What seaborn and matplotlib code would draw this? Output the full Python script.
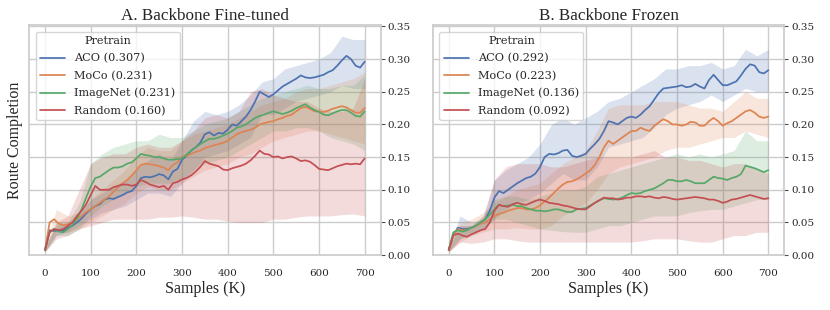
import numpy as np
import pandas as pd
import seaborn as sns
import matplotlib
matplotlib.use("Agg")
import matplotlib.pyplot as plt

# ---------------- data ----------------
X_MEAN = list(range(0, 701, 10))
X_BAND = list(range(0, 701, 25))
SERIES = ["ACO", "MoCo", "ImageNet", "Random"]
FINAL_A = ["0.307", "0.231", "0.231", "0.160"]
FINAL_B = ["0.292", "0.223", "0.136", "0.092"]
TITLES = ["A. Backbone Fine-tuned", "B. Backbone Frozen"]
XTICKS = [0, 100, 200, 300, 400, 500, 600, 700]
YTICKS = [0.00, 0.05, 0.10, 0.15, 0.20, 0.25, 0.30, 0.35]

# Panel A means
A_ACO = [0.008, 0.038, 0.037, 0.038, 0.037, 0.042, 0.045, 0.050, 0.056, 0.064,
         0.070, 0.075, 0.078, 0.085, 0.087, 0.086, 0.089, 0.092, 0.096, 0.098,
         0.106, 0.118, 0.120, 0.119, 0.121, 0.124, 0.122, 0.116, 0.128, 0.132,
         0.146, 0.152, 0.160, 0.165, 0.172, 0.185, 0.188, 0.183, 0.187, 0.186,
         0.192, 0.200, 0.198, 0.205, 0.212, 0.222, 0.235, 0.250, 0.246, 0.242,
         0.246, 0.252, 0.258, 0.262, 0.266, 0.270, 0.275, 0.272, 0.271, 0.272,
         0.274, 0.276, 0.280, 0.283, 0.290, 0.298, 0.305, 0.300, 0.290, 0.287,
         0.296]
A_MOCO = [0.008, 0.050, 0.055, 0.048, 0.046, 0.047, 0.050, 0.055, 0.060, 0.066,
          0.070, 0.075, 0.080, 0.085, 0.090, 0.097, 0.104, 0.110, 0.115, 0.122,
          0.130, 0.138, 0.140, 0.139, 0.138, 0.136, 0.134, 0.130, 0.138, 0.142,
          0.150, 0.152, 0.155, 0.158, 0.160, 0.164, 0.166, 0.168, 0.170, 0.172,
          0.175, 0.180, 0.185, 0.188, 0.190, 0.192, 0.195, 0.200, 0.202, 0.204,
          0.205, 0.208, 0.210, 0.213, 0.215, 0.220, 0.225, 0.227, 0.224, 0.220,
          0.220, 0.219, 0.221, 0.224, 0.226, 0.228, 0.226, 0.222, 0.218, 0.218,
          0.225]
A_IMNET = [0.008, 0.035, 0.040, 0.036, 0.035, 0.040, 0.046, 0.056, 0.070, 0.088,
           0.105, 0.118, 0.120, 0.125, 0.130, 0.134, 0.134, 0.136, 0.140, 0.142,
           0.148, 0.155, 0.153, 0.152, 0.150, 0.150, 0.148, 0.146, 0.146, 0.147,
           0.148, 0.154, 0.160, 0.165, 0.170, 0.174, 0.178, 0.178, 0.180, 0.183,
           0.186, 0.190, 0.195, 0.197, 0.200, 0.205, 0.210, 0.213, 0.215, 0.218,
           0.220, 0.218, 0.216, 0.218, 0.221, 0.225, 0.228, 0.231, 0.226, 0.222,
           0.219, 0.215, 0.214, 0.217, 0.220, 0.222, 0.222, 0.218, 0.213, 0.212,
           0.220]
A_RAND = [0.008, 0.035, 0.040, 0.038, 0.040, 0.045, 0.050, 0.060, 0.068, 0.078,
          0.092, 0.106, 0.100, 0.100, 0.100, 0.104, 0.106, 0.108, 0.108, 0.106,
          0.108, 0.115, 0.112, 0.108, 0.106, 0.104, 0.106, 0.100, 0.110, 0.112,
          0.116, 0.118, 0.122, 0.128, 0.135, 0.144, 0.140, 0.138, 0.136, 0.131,
          0.130, 0.133, 0.135, 0.137, 0.140, 0.145, 0.152, 0.160, 0.155, 0.154,
          0.150, 0.151, 0.148, 0.150, 0.151, 0.148, 0.144, 0.145, 0.143, 0.138,
          0.132, 0.131, 0.130, 0.133, 0.136, 0.138, 0.140, 0.139, 0.140, 0.139,
          0.148]

# Panel A bands (lower / upper)
A_ACO_LO = [0.005, 0.030, 0.035, 0.045, 0.055, 0.065, 0.070, 0.075, 0.085, 0.095,
            0.095, 0.090, 0.110, 0.130, 0.150, 0.155, 0.160, 0.170, 0.180, 0.215,
            0.215, 0.225, 0.235, 0.240, 0.245, 0.250, 0.260, 0.255, 0.255]
A_ACO_HI = [0.012, 0.045, 0.050, 0.065, 0.085, 0.095, 0.105, 0.115, 0.130, 0.145,
            0.155, 0.145, 0.175, 0.205, 0.220, 0.215, 0.220, 0.230, 0.245, 0.265,
            0.270, 0.285, 0.290, 0.295, 0.300, 0.310, 0.335, 0.330, 0.330]
A_MOCO_LO = [0.005, 0.035, 0.035, 0.040, 0.050, 0.060, 0.070, 0.080, 0.095, 0.105,
             0.100, 0.100, 0.110, 0.120, 0.130, 0.135, 0.140, 0.150, 0.155, 0.165,
             0.175, 0.180, 0.185, 0.190, 0.190, 0.185, 0.180, 0.175, 0.170]
A_MOCO_HI = [0.012, 0.070, 0.060, 0.065, 0.085, 0.100, 0.115, 0.130, 0.150, 0.165,
             0.160, 0.160, 0.175, 0.185, 0.190, 0.195, 0.200, 0.210, 0.220, 0.230,
             0.235, 0.240, 0.250, 0.255, 0.255, 0.260, 0.265, 0.270, 0.280]
A_IMNET_LO = [0.005, 0.030, 0.030, 0.040, 0.060, 0.075, 0.085, 0.095, 0.105, 0.110,
              0.110, 0.110, 0.115, 0.130, 0.140, 0.145, 0.150, 0.160, 0.170, 0.180,
              0.190, 0.190, 0.195, 0.195, 0.190, 0.180, 0.175, 0.170, 0.160]
A_IMNET_HI = [0.012, 0.050, 0.050, 0.080, 0.140, 0.155, 0.165, 0.170, 0.175, 0.175,
              0.185, 0.180, 0.180, 0.190, 0.200, 0.205, 0.210, 0.220, 0.230, 0.240,
              0.245, 0.250, 0.255, 0.260, 0.255, 0.255, 0.260, 0.260, 0.275]
A_RAND_LO = [0.005, 0.025, 0.030, 0.040, 0.045, 0.050, 0.055, 0.055, 0.055, 0.055,
             0.058, 0.058, 0.060, 0.058, 0.055, 0.055, 0.052, 0.050, 0.050, 0.050,
             0.055, 0.055, 0.058, 0.060, 0.060, 0.060, 0.062, 0.063, 0.060]
A_RAND_HI = [0.012, 0.050, 0.060, 0.100, 0.140, 0.150, 0.155, 0.155, 0.165, 0.170,
             0.165, 0.165, 0.175, 0.190, 0.210, 0.215, 0.210, 0.220, 0.250, 0.255,
             0.245, 0.240, 0.235, 0.235, 0.225, 0.220, 0.220, 0.225, 0.270]

# Panel B means
B_ACO = [0.008, 0.030, 0.042, 0.040, 0.040, 0.042, 0.045, 0.050, 0.055, 0.068,
         0.088, 0.098, 0.095, 0.100, 0.105, 0.110, 0.114, 0.118, 0.120, 0.125,
         0.135, 0.150, 0.155, 0.154, 0.156, 0.160, 0.161, 0.152, 0.150, 0.152,
         0.155, 0.163, 0.170, 0.178, 0.190, 0.205, 0.203, 0.200, 0.205, 0.210,
         0.212, 0.210, 0.215, 0.222, 0.228, 0.238, 0.248, 0.255, 0.256, 0.257,
         0.258, 0.260, 0.257, 0.258, 0.262, 0.258, 0.255, 0.268, 0.276, 0.268,
         0.260, 0.260, 0.263, 0.266, 0.275, 0.285, 0.292, 0.290, 0.280, 0.278,
         0.283]
B_MOCO = [0.008, 0.030, 0.040, 0.038, 0.038, 0.042, 0.045, 0.048, 0.050, 0.055,
          0.060, 0.063, 0.065, 0.068, 0.070, 0.072, 0.072, 0.070, 0.070, 0.072,
          0.076, 0.082, 0.088, 0.095, 0.102, 0.108, 0.112, 0.113, 0.116, 0.120,
          0.125, 0.130, 0.138, 0.150, 0.165, 0.175, 0.170, 0.175, 0.180, 0.185,
          0.190, 0.190, 0.195, 0.192, 0.190, 0.198, 0.203, 0.208, 0.205, 0.200,
          0.200, 0.198, 0.200, 0.204, 0.203, 0.198, 0.198, 0.205, 0.210, 0.205,
          0.198, 0.202, 0.205, 0.210, 0.215, 0.220, 0.222, 0.218, 0.212, 0.210,
          0.212]
B_IMNET = [0.008, 0.035, 0.038, 0.036, 0.038, 0.042, 0.045, 0.050, 0.055, 0.062,
           0.070, 0.077, 0.075, 0.076, 0.077, 0.075, 0.075, 0.072, 0.070, 0.068,
           0.068, 0.067, 0.068, 0.070, 0.070, 0.068, 0.066, 0.066, 0.070, 0.071,
           0.072, 0.076, 0.080, 0.084, 0.087, 0.086, 0.085, 0.086, 0.088, 0.092,
           0.095, 0.094, 0.095, 0.098, 0.100, 0.102, 0.106, 0.110, 0.115, 0.115,
           0.113, 0.113, 0.115, 0.113, 0.110, 0.110, 0.110, 0.115, 0.120, 0.118,
           0.117, 0.115, 0.118, 0.120, 0.124, 0.137, 0.135, 0.133, 0.130, 0.127,
           0.130]
B_RAND = [0.008, 0.030, 0.033, 0.030, 0.028, 0.032, 0.035, 0.038, 0.040, 0.050,
          0.068, 0.077, 0.075, 0.074, 0.078, 0.080, 0.078, 0.077, 0.080, 0.083,
          0.085, 0.083, 0.080, 0.079, 0.078, 0.076, 0.075, 0.073, 0.071, 0.070,
          0.070, 0.075, 0.080, 0.084, 0.088, 0.087, 0.087, 0.085, 0.086, 0.088,
          0.088, 0.090, 0.090, 0.089, 0.090, 0.088, 0.087, 0.089, 0.088, 0.086,
          0.085, 0.086, 0.087, 0.088, 0.089, 0.088, 0.087, 0.085, 0.085, 0.083,
          0.080, 0.082, 0.085, 0.086, 0.088, 0.090, 0.092, 0.090, 0.088, 0.086,
          0.087]

# Panel B bands
B_ACO_LO = [0.005, 0.025, 0.035, 0.040, 0.055, 0.070, 0.080, 0.085, 0.095, 0.110,
            0.125, 0.115, 0.115, 0.135, 0.165, 0.170, 0.175, 0.180, 0.195, 0.215,
            0.225, 0.230, 0.235, 0.245, 0.235, 0.245, 0.255, 0.250, 0.250]
B_ACO_HI = [0.012, 0.060, 0.050, 0.055, 0.115, 0.130, 0.140, 0.150, 0.170, 0.200,
            0.210, 0.200, 0.210, 0.220, 0.235, 0.240, 0.250, 0.260, 0.270, 0.285,
            0.285, 0.290, 0.290, 0.295, 0.285, 0.290, 0.315, 0.305, 0.315]
B_MOCO_LO = [0.005, 0.020, 0.030, 0.035, 0.040, 0.040, 0.042, 0.040, 0.040, 0.045,
             0.060, 0.070, 0.080, 0.100, 0.125, 0.135, 0.140, 0.145, 0.150, 0.160,
             0.165, 0.165, 0.170, 0.175, 0.180, 0.180, 0.190, 0.185, 0.180]
B_MOCO_HI = [0.012, 0.050, 0.055, 0.065, 0.080, 0.090, 0.100, 0.105, 0.110, 0.125,
             0.140, 0.150, 0.160, 0.190, 0.225, 0.230, 0.230, 0.230, 0.235, 0.235,
             0.235, 0.230, 0.225, 0.225, 0.220, 0.235, 0.250, 0.240, 0.240]
B_IMNET_LO = [0.005, 0.025, 0.030, 0.040, 0.055, 0.055, 0.050, 0.045, 0.040, 0.038,
              0.036, 0.035, 0.035, 0.040, 0.045, 0.045, 0.050, 0.055, 0.060, 0.060,
              0.060, 0.065, 0.068, 0.070, 0.070, 0.075, 0.080, 0.085, 0.085]
B_IMNET_HI = [0.012, 0.045, 0.045, 0.060, 0.085, 0.090, 0.090, 0.085, 0.090, 0.095,
              0.100, 0.100, 0.105, 0.120, 0.125, 0.130, 0.135, 0.140, 0.145, 0.150,
              0.155, 0.150, 0.155, 0.150, 0.155, 0.160, 0.190, 0.175, 0.175]
B_RAND_LO = [0.005, 0.020, 0.018, 0.020, 0.025, 0.025, 0.022, 0.020, 0.020, 0.020,
             0.020, 0.020, 0.020, 0.020, 0.020, 0.020, 0.020, 0.022, 0.025, 0.025,
             0.025, 0.022, 0.020, 0.020, 0.025, 0.030, 0.030, 0.035, 0.035]
B_RAND_HI = [0.012, 0.045, 0.045, 0.060, 0.115, 0.135, 0.140, 0.140, 0.140, 0.135,
             0.135, 0.140, 0.145, 0.150, 0.150, 0.150, 0.150, 0.155, 0.160, 0.150,
             0.150, 0.145, 0.145, 0.140, 0.135, 0.140, 0.140, 0.130, 0.125]

PANELS = [
    dict(means=[A_ACO, A_MOCO, A_IMNET, A_RAND],
         lo=[A_ACO_LO, A_MOCO_LO, A_IMNET_LO, A_RAND_LO],
         hi=[A_ACO_HI, A_MOCO_HI, A_IMNET_HI, A_RAND_HI],
         final=FINAL_A),
    dict(means=[B_ACO, B_MOCO, B_IMNET, B_RAND],
         lo=[B_ACO_LO, B_MOCO_LO, B_IMNET_LO, B_RAND_LO],
         hi=[B_ACO_HI, B_MOCO_HI, B_IMNET_HI, B_RAND_HI],
         final=FINAL_B),
]

# ---------------- style ----------------
sns.set_theme(style="whitegrid", font="serif")
plt.rcParams["font.family"] = ["serif"]
plt.rcParams["font.serif"] = ["DejaVu Serif"]
palette = sns.color_palette("deep", 4)
LABEL_FONT = "Liberation Serif"

fig, axes = plt.subplots(1, 2, figsize=(8.3, 3.1), dpi=100)
fig.subplots_adjust(left=0.035, right=0.945, top=0.919, bottom=0.177, wspace=0.148)

for i, (ax, p) in enumerate(zip(axes, PANELS)):
    names = [f"{s} ({f})" for s, f in zip(SERIES, p["final"])]
    rows = []
    for name, m in zip(names, p["means"]):
        for x, v in zip(X_MEAN, m):
            rows.append((x, v, name))
    df = pd.DataFrame(rows, columns=["Samples", "RC", "Pretrain"])
    for c, lo, hi in zip(palette, p["lo"], p["hi"]):
        ax.fill_between(X_BAND, lo, hi, color=c, alpha=0.2, linewidth=0)
    sns.lineplot(data=df, x="Samples", y="RC", hue="Pretrain", hue_order=names,
                 palette=palette, linewidth=1.25, ax=ax)
    ax.set_ylim(0, 0.352)
    ax.set_xticks(XTICKS)
    ax.set_yticks(YTICKS)
    ax.set_yticklabels([f"{t:.2f}" for t in YTICKS])
    ax.yaxis.tick_right()
    ax.tick_params(axis="y", right=True, length=3, width=0.8, color="0.3",
                   labelsize=7.5, pad=2)
    ax.tick_params(axis="x", labelsize=7.5, pad=4)
    ax.set_title(TITLES[i], fontfamily=LABEL_FONT, fontsize=12.3, pad=4)
    ax.set_xlabel("Samples (K)", fontfamily=LABEL_FONT, fontsize=11.5, labelpad=2)
    if i == 0:
        ax.set_ylabel("Route Completion", fontfamily=LABEL_FONT, fontsize=11.5, labelpad=4)
    else:
        ax.set_ylabel("")
    leg = ax.legend(title="Pretrain", loc="upper left", fontsize=8.1,
                    title_fontsize=8.1, borderaxespad=0.6, labelspacing=0.62,
                    handlelength=2.2)

fig.savefig("out.png", dpi=100)
